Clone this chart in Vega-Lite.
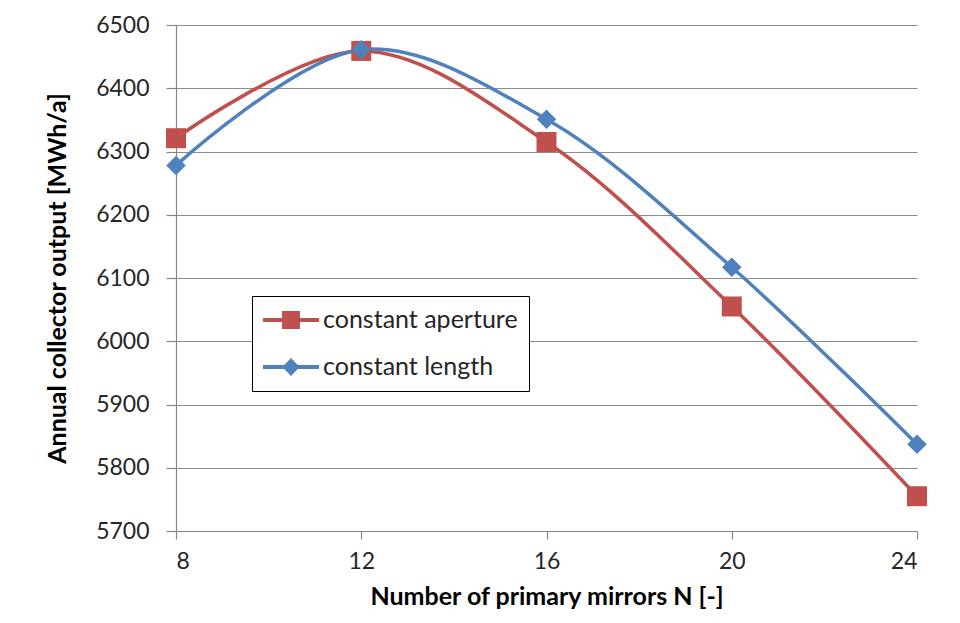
{
  "$schema": "https://vega.github.io/schema/vega-lite/v6.json",
  "width": 741,
  "height": 506,
  "autosize": {"type": "none"},
  "padding": {"left": 176, "top": 25, "right": 43, "bottom": 92},
  "background": "white",
  "config": {
    "view": {"stroke": null},
    "font": "Lato",
    "axis": {
      "labelFont": "Lato",
      "labelFontSize": 23,
      "labelColor": "#262626",
      "titleFont": "Lato",
      "titleFontSize": 25,
      "titleFontWeight": "bold",
      "titleColor": "#000000",
      "domainColor": "#868686",
      "tickColor": "#868686",
      "gridColor": "#8c8c8c",
      "gridWidth": 1.2,
      "domainWidth": 1.2,
      "tickWidth": 1.2
    }
  },
  "data": {
    "values": [
      {"N": 8, "series": "constant aperture", "value": 6321},
      {"N": 12, "series": "constant aperture", "value": 6459},
      {"N": 16, "series": "constant aperture", "value": 6315},
      {"N": 20, "series": "constant aperture", "value": 6055},
      {"N": 24, "series": "constant aperture", "value": 5755},
      {"N": 8, "series": "constant length", "value": 6278},
      {"N": 12, "series": "constant length", "value": 6461},
      {"N": 16, "series": "constant length", "value": 6351},
      {"N": 20, "series": "constant length", "value": 6117},
      {"N": 24, "series": "constant length", "value": 5837}
    ]
  },
  "encoding": {
    "x": {
      "field": "N",
      "type": "quantitative",
      "scale": {"domain": [8, 24], "nice": false, "zero": false},
      "axis": {
        "values": [8, 12, 16, 20, 24],
        "format": "d",
        "grid": false,
        "tickSize": 8,
        "labelPadding": 11,
        "title": "Number of primary mirrors N [-]",
        "titlePadding": 11
      }
    },
    "y": {
      "field": "value",
      "type": "quantitative",
      "scale": {"domain": [5700, 6500], "nice": false, "zero": false},
      "axis": {
        "values": [5700, 5800, 5900, 6000, 6100, 6200, 6300, 6400, 6500],
        "format": "d",
        "grid": true,
        "tickSize": 10,
        "labelPadding": 17,
        "title": "Annual collector output  [MWh/a]",
        "titlePadding": 25
      }
    },
    "color": {
      "field": "series",
      "type": "nominal",
      "scale": {"domain": ["constant aperture", "constant length"], "range": ["#C0504D", "#4F81BD"]},
      "legend": {
        "orient": "none",
        "legendX": 76,
        "legendY": 271,
        "title": null,
        "strokeColor": "#000000",
        "fillColor": "#ffffff",
        "padding": 11,
        "labelFont": "Lato",
        "labelFontSize": 25,
        "labelColor": "#262626",
        "labelLimit": 400,
        "labelOffset": 4,
        "symbolSize": 3136,
        "clipHeight": 26,
        "rowPadding": 21,
        "encode": {
          "symbols": {
            "update": {
              "shape": {"signal": "datum.value === 'constant aperture' ? 'M-1,-0.075H1V0.075H-1Z M-0.32,-0.32H0.32V0.32H-0.32Z' : 'M-1,-0.075H1V0.075H-1Z M-0.31,0L0,-0.32L0.31,0L0,0.32Z'"},
              "fill": {"signal": "datum.value === 'constant aperture' ? '#C0504D' : '#4F81BD'"},
              "stroke": {"value": "transparent"},
              "strokeWidth": {"value": 0},
              "opacity": {"value": 1},
              "fillOpacity": {"value": 1}
            }
          }
        }
      }
    }
  },
  "layer": [
    {
      "mark": {"type": "line", "interpolate": "catmull-rom", "strokeWidth": 3.5}
    },
    {
      "transform": [{"filter": "datum.series === 'constant aperture'"}],
      "mark": {"type": "point", "shape": "square", "filled": true, "opacity": 1, "size": 400}
    },
    {
      "transform": [{"filter": "datum.series === 'constant length'"}],
      "mark": {"type": "point", "shape": "diamond", "filled": true, "opacity": 1, "size": 380}
    }
  ]
}
